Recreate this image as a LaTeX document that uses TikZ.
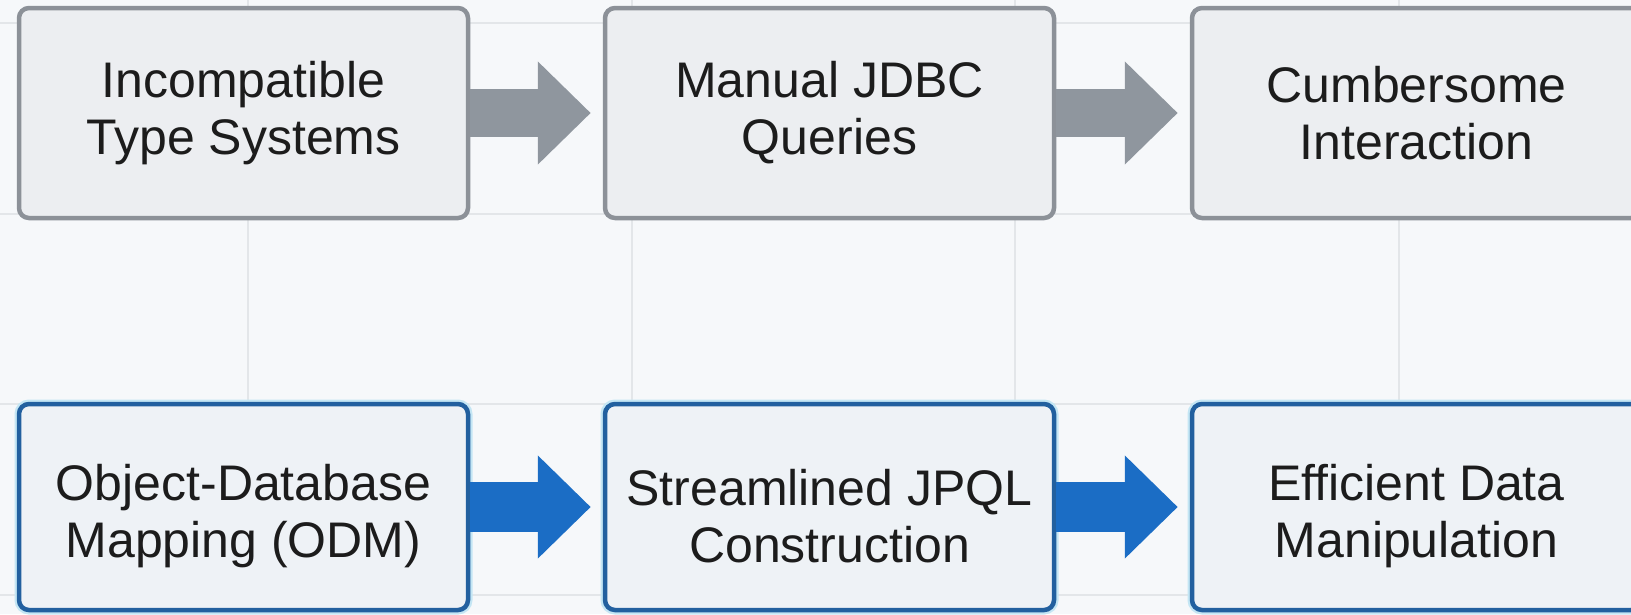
\documentclass[tikz,border=0pt]{standalone}
\usepackage{fontspec}
\setmainfont{Liberation Sans}
\usetikzlibrary{arrows.meta,calc}
\definecolor{bg}{HTML}{F6F8FA}
\definecolor{gridc}{HTML}{E3E6E9}
\definecolor{grayfill}{HTML}{ECEEF1}
\definecolor{grayline}{HTML}{8C9198}
\definecolor{grayarrow}{HTML}{8F969E}
\definecolor{bluefill}{HTML}{EEF2F6}
\definecolor{blueline}{HTML}{22609F}
\definecolor{bluearrow}{HTML}{1B6DC5}
\definecolor{glow}{HTML}{C4E6F4}
\definecolor{txt}{HTML}{1C1C1C}
\begin{document}
\begin{tikzpicture}[x=1pt,y=-1pt,
  box/.style={rectangle, rounded corners=10pt, line width=4.5pt, minimum width=449pt,
    align=center, text=txt, font=\fontsize{50}{57}\selectfont, inner sep=0pt},
  graybox/.style={box, draw=grayline, fill=grayfill, minimum height=210pt},
  bluebox/.style={box, draw=blueline, fill=bluefill, minimum height=206pt,
    preaction={draw=glow, line width=9pt}},
  btext/.style={align=center, text=txt, font=\fontsize{50}{57}\selectfont, inner sep=0pt, yshift=-9pt},
  grayflow/.style={draw=grayarrow, line width=48pt, -{Triangle[length=53pt,width=100pt]}},
  blueflow/.style={draw=bluearrow, line width=50pt, -{Triangle[length=53pt,width=100pt]}},
  gridline/.style={draw=gridc, line width=1.5pt}
]
\useasboundingbox (0,0) rectangle (1631,614);
\clip (0,0) rectangle (1631,614);
\fill[bg] (0,0) rectangle (1631,614);
% background grid
\foreach \gx in {248,632,1015,1399} \draw[gridline] (\gx,0) -- (\gx,614);
\foreach \gy in {23,214,404,595} \draw[gridline] (0,\gy) -- (1631,\gy);
% top row
\node[graybox] (t1) at (243.5,113) {Incompatible\\Type Systems};
\node[graybox] (t2) at (829.5,113) {Manual JDBC\\Queries};
\node[graybox] (t3) at (1416.5,113) {Cumbersome\\Interaction};
% bottom row
\node[bluebox, label={[btext]center:{Object-Database\\Mapping (ODM)}}] (b1) at (243.5,507) {};
\node[bluebox, label={[btext]center:{Streamlined JPQL\\Construction}}] (b2) at (829.5,507) {};
\node[bluebox, label={[btext]center:{Efficient Data\\Manipulation}}] (b3) at (1416.5,507) {};
% arrows
\draw[grayflow] (t1.east) -- ($(t2.west)+(-12,0)$);
\draw[grayflow] (t2.east) -- ($(t3.west)+(-12,0)$);
\draw[blueflow] (b1.east) -- ($(b2.west)+(-12,0)$);
\draw[blueflow] (b2.east) -- ($(b3.west)+(-12,0)$);
\end{tikzpicture}
\end{document}
